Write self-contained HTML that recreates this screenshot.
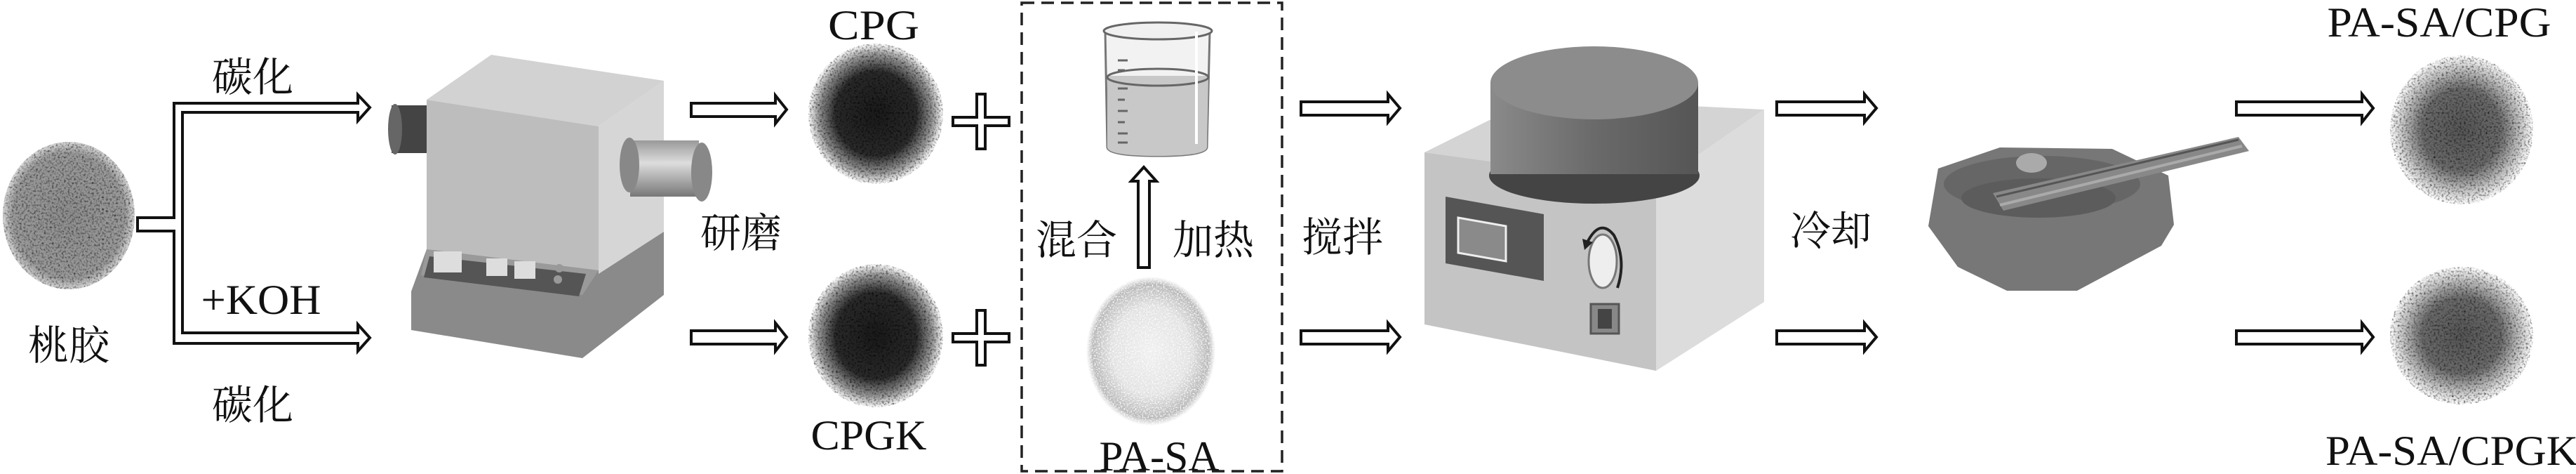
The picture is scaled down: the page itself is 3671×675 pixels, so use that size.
<!DOCTYPE html>
<html><head><meta charset="utf-8"><style>
html,body{margin:0;padding:0;background:#fff;}
svg{display:block;}
.zh{font-family:"Liberation Serif","Noto Serif CJK SC","Noto Sans CJK SC",serif;font-size:58px;fill:#111;}
.en{font-family:"Liberation Serif",serif;font-size:60px;fill:#111;}
.ar{fill:#fff;stroke:#111;stroke-width:4;}
</style></head><body>
<svg width="3671" height="675" viewBox="0 0 3671 675" xmlns="http://www.w3.org/2000/svg">
<defs>
<filter id="spk" x="-10%" y="-10%" width="120%" height="120%">
<feTurbulence type="fractalNoise" baseFrequency="0.35" numOctaves="2" seed="3" result="n"/>
<feColorMatrix in="n" type="matrix" values="0 0 0 0 0  0 0 0 0 0  0 0 0 0 0  0 0 0 -2.2 1.25" result="a"/>
<feComposite in="a" in2="SourceGraphic" operator="in" result="b"/>
<feBlend in="SourceGraphic" in2="b" mode="multiply"/>
</filter>
<filter id="spk2" x="-10%" y="-10%" width="120%" height="120%">
<feTurbulence type="fractalNoise" baseFrequency="0.5" numOctaves="1" seed="5" result="n"/>
<feColorMatrix in="n" type="matrix" values="0 0 0 0 1  0 0 0 0 1  0 0 0 0 1  0 0 0 -3 1.6" result="a"/>
<feComposite in="a" in2="SourceGraphic" operator="in" result="b"/>
<feBlend in="SourceGraphic" in2="b" mode="screen"/>
</filter>
<radialGradient id="peach"><stop offset="0" stop-color="#8e8e8e"/><stop offset="0.85" stop-color="#9a9a9a"/><stop offset="1" stop-color="#d8d8d8"/></radialGradient>
<radialGradient id="black"><stop offset="0" stop-color="#1a1a1a"/><stop offset="0.6" stop-color="#2a2a2a"/><stop offset="0.85" stop-color="#999"/><stop offset="1" stop-color="#fff"/></radialGradient>
<radialGradient id="white"><stop offset="0" stop-color="#f0f0f0"/><stop offset="0.6" stop-color="#e2e2e2"/><stop offset="0.9" stop-color="#b8b8b8"/><stop offset="1" stop-color="#fff"/></radialGradient>
<radialGradient id="mix"><stop offset="0" stop-color="#555"/><stop offset="0.55" stop-color="#6a6a6a"/><stop offset="0.85" stop-color="#cfcfcf"/><stop offset="1" stop-color="#fff"/></radialGradient>
<linearGradient id="cyl" x1="0" x2="1"><stop offset="0" stop-color="#8a8a8a"/><stop offset="0.5" stop-color="#6a6a6a"/><stop offset="1" stop-color="#555"/></linearGradient>
<linearGradient id="tube" x1="0" y1="0" x2="0" y2="1"><stop offset="0" stop-color="#999"/><stop offset="0.4" stop-color="#ddd"/><stop offset="1" stop-color="#777"/></linearGradient>
</defs>
<rect width="3671" height="675" fill="#fff"/>

<!-- 桃胶 -->
<ellipse cx="98" cy="307" rx="94" ry="105" fill="url(#peach)" filter="url(#spk)"/>
<text class="zh" x="98" y="512" text-anchor="middle">桃胶</text>

<!-- branch -->
<path class="ar" d="M196,310 L248,310 L248,147 L510,147 L510,135 L527,153 L510,172 L510,160 L260,160 L260,474 L510,474 L510,462 L527,481 L510,500 L510,489 L248,489 L248,329 L196,329 Z"/>
<text class="zh" x="360" y="130" text-anchor="middle">碳化</text>
<text class="en" x="372" y="447" text-anchor="middle" textLength="171" lengthAdjust="spacingAndGlyphs">+KOH</text>
<text class="zh" x="360" y="597" text-anchor="middle">碳化</text>

<!-- furnace -->
<rect x="558" y="150" width="50" height="68" fill="#444"/>
<ellipse cx="563" cy="184" rx="10" ry="36" fill="#666"/>
<polygon points="608,142 700,78 946,115 853,180" fill="#d2d2d2"/>
<polygon points="853,180 946,115 946,330 853,390" fill="#d6d6d6"/>
<polygon points="608,142 853,180 853,390 608,355" fill="#bdbdbd"/>
<polygon points="586,415 608,355 853,385 853,390 946,330 946,420 830,510 586,470" fill="#8a8a8a"/>
<polygon points="608,355 853,385 830,420 600,392" fill="#9a9a9a"/>
<polygon points="612,365 835,390 825,422 604,395" fill="#555"/>
<rect x="618" y="358" width="40" height="30" fill="#ddd"/>
<rect x="693" y="368" width="30" height="25" fill="#ddd"/>
<rect x="733" y="372" width="30" height="25" fill="#ddd"/>
<circle cx="797" cy="382" r="6" fill="#999"/><circle cx="795" cy="398" r="6" fill="#999"/>
<rect x="898" y="200" width="98" height="80" fill="url(#tube)"/>
<ellipse cx="897" cy="235" rx="14" ry="39" fill="#888"/>
<ellipse cx="1000" cy="245" rx="15" ry="42" fill="#888"/>

<!-- arrows 研磨 -->
<path class="ar" d="M985,147 L1105,147 L1105,136 L1121,156 L1105,176 L1105,166 L985,166 Z"/>
<path class="ar" d="M985,471 L1105,471 L1105,460 L1121,480 L1105,500 L1105,490 L985,490 Z"/>
<text class="zh" x="1056" y="352" text-anchor="middle">研磨</text>

<!-- CPG -->
<text class="en" x="1245" y="56" text-anchor="middle" textLength="130" lengthAdjust="spacingAndGlyphs">CPG</text>
<ellipse cx="1248" cy="162" rx="96" ry="100" fill="url(#black)" filter="url(#spk)"/>
<ellipse cx="1248" cy="478" rx="96" ry="102" fill="url(#black)" filter="url(#spk)"/>
<text class="en" x="1238" y="640" text-anchor="middle" textLength="165" lengthAdjust="spacingAndGlyphs">CPGK</text>

<!-- plus -->
<path class="ar" d="M1392,134 L1404,134 L1404,167 L1438,167 L1438,179 L1404,179 L1404,212 L1392,212 L1392,179 L1358,179 L1358,167 L1392,167 Z"/>
<path class="ar" d="M1392,442 L1404,442 L1404,475 L1438,475 L1438,487 L1404,487 L1404,520 L1392,520 L1392,487 L1358,487 L1358,475 L1392,475 Z"/>

<!-- dashed box -->
<rect x="1456" y="4" width="371" height="667" fill="none" stroke="#222" stroke-width="3.5" stroke-dasharray="18,10"/>

<!-- beaker -->
<path d="M1575,45 L1578,210 Q1580,222 1650,222 Q1718,222 1720,210 L1724,45" fill="#f2f2f2" stroke="#777" stroke-width="3"/>
<path d="M1578,108 L1578,210 Q1580,222 1650,222 Q1718,222 1720,210 L1722,108 Z" fill="#c8c8c8"/>
<ellipse cx="1650" cy="110" rx="72" ry="12" fill="none" stroke="#666" stroke-width="3"/>
<ellipse cx="1650" cy="44" rx="77" ry="12" fill="#f0f0f0" stroke="#666" stroke-width="3"/>
<line x1="1705" y1="45" x2="1705" y2="205" stroke="#fff" stroke-width="4"/>
<g stroke="#666" stroke-width="3">
<line x1="1593" y1="86" x2="1607" y2="86"/><line x1="1593" y1="100" x2="1603" y2="100"/><line x1="1593" y1="126" x2="1607" y2="126"/><line x1="1593" y1="142" x2="1603" y2="142"/><line x1="1593" y1="158" x2="1607" y2="158"/><line x1="1593" y1="174" x2="1603" y2="174"/><line x1="1593" y1="190" x2="1607" y2="190"/><line x1="1593" y1="203" x2="1607" y2="203"/>
</g>
<path class="ar" d="M1622,381 L1622,258 L1612,258 L1630,238 L1648,258 L1638,258 L1638,381 Z"/>
<text class="zh" x="1534" y="362" text-anchor="middle">混合</text>
<text class="zh" x="1729" y="362" text-anchor="middle">加热</text>
<ellipse cx="1640" cy="500" rx="92" ry="106" fill="url(#white)" filter="url(#spk2)"/>
<text class="en" x="1652" y="670" text-anchor="middle" textLength="171" lengthAdjust="spacingAndGlyphs">PA-SA</text>

<!-- arrows 搅拌 -->
<path class="ar" d="M1854,145 L1978,145 L1978,134 L1995,154 L1978,174 L1978,164 L1854,164 Z"/>
<path class="ar" d="M1854,471 L1978,471 L1978,460 L1995,480 L1978,500 L1978,490 L1854,490 Z"/>
<text class="zh" x="1913" y="358" text-anchor="middle">搅拌</text>

<!-- stirrer -->
<polygon points="2030,217 2185,140 2514,156 2360,262" fill="#d4d4d4"/>
<polygon points="2360,262 2514,156 2514,430 2360,528" fill="#dcdcdc"/>
<polygon points="2030,217 2360,262 2360,528 2030,462" fill="#c4c4c4"/>
<ellipse cx="2272" cy="250" rx="150" ry="40" fill="#444"/>
<rect x="2124" y="118" width="296" height="130" fill="url(#cyl)"/>
<ellipse cx="2272" cy="118" rx="148" ry="52" fill="#8c8c8c"/>
<polygon points="2060,280 2200,305 2200,400 2060,375" fill="#555"/>
<polygon points="2078,310 2146,322 2146,372 2078,360" fill="#8a8a8a" stroke="#eee" stroke-width="3"/>
<ellipse cx="2284" cy="372" rx="20" ry="38" fill="#eee" stroke="#777" stroke-width="3"/>
<path d="M2262,345 Q2280,310 2300,335 Q2318,370 2305,410" fill="none" stroke="#222" stroke-width="4"/>
<polygon points="2255,340 2270,345 2258,356" fill="#222"/>
<rect x="2267" y="433" width="40" height="42" fill="#888" stroke="#555" stroke-width="3"/>
<rect x="2277" y="440" width="20" height="28" fill="#444"/>

<!-- arrows 冷却 -->
<path class="ar" d="M2532,145 L2657,145 L2657,134 L2674,154 L2657,174 L2657,164 L2532,164 Z"/>
<path class="ar" d="M2532,471 L2657,471 L2657,460 L2674,480 L2657,500 L2657,490 L2532,490 Z"/>
<text class="zh" x="2609" y="349" text-anchor="middle">冷却</text>

<!-- mortar -->
<polygon points="2762,240 2850,210 3010,212 3090,250 3098,320 3080,350 2960,414 2860,414 2790,380 2748,322" fill="#777"/>
<ellipse cx="2910" cy="262" rx="140" ry="40" fill="#666"/>
<ellipse cx="2905" cy="282" rx="110" ry="28" fill="#5c5c5c"/>
<ellipse cx="2895" cy="232" rx="22" ry="14" fill="#aaa"/>
<polygon points="2840,275 3190,195 3205,215 2855,300" fill="#888"/>
<line x1="2850" y1="292" x2="3195" y2="208" stroke="#aaa" stroke-width="4"/>
<line x1="2845" y1="280" x2="3190" y2="199" stroke="#555" stroke-width="3"/>

<!-- arrows final -->
<path class="ar" d="M3187,145 L3366,145 L3366,134 L3382,154 L3366,174 L3366,164 L3187,164 Z"/>
<path class="ar" d="M3187,471 L3366,471 L3366,460 L3382,480 L3366,500 L3366,490 L3187,490 Z"/>

<text class="en" x="3476" y="52" text-anchor="middle" textLength="319" lengthAdjust="spacingAndGlyphs">PA-SA/CPG</text>
<ellipse cx="3508" cy="185" rx="102" ry="106" fill="url(#mix)" filter="url(#spk)"/>
<ellipse cx="3508" cy="478" rx="102" ry="98" fill="url(#mix)" filter="url(#spk)"/>
<text class="en" x="3494" y="662" text-anchor="middle" textLength="360" lengthAdjust="spacingAndGlyphs">PA-SA/CPGK</text>
</svg>
</body></html>
